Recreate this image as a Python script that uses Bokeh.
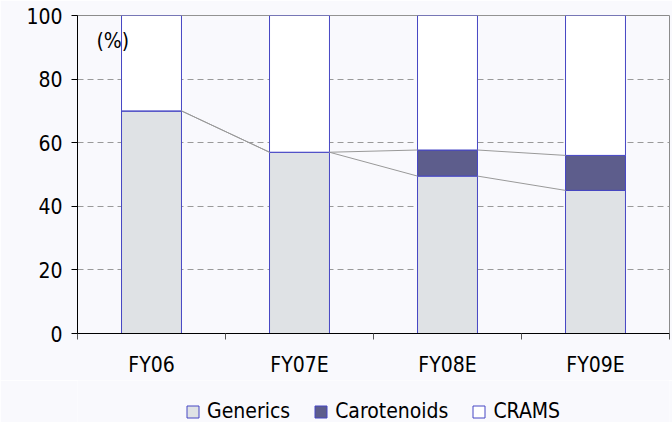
import numpy as np
from bokeh.plotting import figure
from bokeh.layouts import column
from bokeh.models import (ColumnDataSource, Range1d, FixedTicker, Legend,
                          LegendItem, Label)
from bokeh.embed import file_html
from bokeh.resources import INLINE

# Revenue mix by segment (% of total)
years = ["FY06", "FY07E", "FY08E", "FY09E"]
generics = [70, 57, 49.5, 45]
carotenoids = [0, 0, 8.2, 11]
crams = [round(100 - g - c, 1) for g, c in zip(generics, carotenoids)]
segments = ["Generics", "Carotenoids", "CRAMS"]
y_ticks = [0, 20, 40, 60, 80, 100]

FONT = "DejaVu Sans Condensed"
FS = "21px"
BAR_W = 0.405
EDGE = "#4646c4"
BG = "#f9f9fd"
FILLS = ["#dfe2e5", "#5d5d8c", "#ffffff"]

centers = [i + 0.5 for i in range(len(years))]
src = ColumnDataSource(dict(x=centers, Generics=generics,
                            Carotenoids=carotenoids, CRAMS=crams))

p = figure(width=672, height=380, output_backend="svg", toolbar_location=None,
           x_range=Range1d(0, len(years)), y_range=Range1d(0, 100),
           min_border_left=77, min_border_right=3, min_border_top=15,
           min_border_bottom=47)
p.background_fill_color = BG
p.border_fill_color = BG
p.outline_line_color = "#8c8c8c"

# stacked columns
p.vbar_stack(segments, x="x", width=BAR_W, source=src, fill_color=FILLS,
             line_color=EDGE, line_width=1)

# series lines joining the tops of each stacked segment
cum_g = np.array(generics, dtype=float)
cum_c = cum_g + np.array(carotenoids, dtype=float)
cum_r = cum_c + np.array(crams, dtype=float)
x0, x1, y0, y1 = [], [], [], []
for level in (cum_g, cum_c, cum_r):
    for i in range(len(years) - 1):
        x0.append(centers[i] + BAR_W / 2)
        x1.append(centers[i + 1] - BAR_W / 2)
        y0.append(level[i])
        y1.append(level[i + 1])
p.segment(x0=x0, y0=y0, x1=x1, y1=y1, line_color="#999999", line_width=1)

# x axis: labels at column centres, ticks at category boundaries
xa = p.xaxis[0]
xa.ticker = FixedTicker(ticks=centers,
                        minor_ticks=list(range(len(years) + 1)))
xa.major_label_overrides = {c: y for c, y in zip(centers, years)}
xa.major_tick_in = 0
xa.major_tick_out = 0
xa.minor_tick_in = 0
xa.minor_tick_out = 6
xa.minor_tick_line_color = "#555555"
xa.axis_line_color = "black"
xa.major_label_standoff = 13
xa.major_label_text_font = FONT
xa.major_label_text_font_size = FS
xa.major_label_text_color = "black"

ya = p.yaxis[0]
ya.ticker = FixedTicker(ticks=y_ticks)
ya.minor_tick_line_color = None
ya.major_tick_in = 0
ya.major_tick_out = 6
ya.major_tick_line_color = "black"
ya.axis_line_color = "black"
ya.major_label_standoff = 9
ya.major_label_text_font = FONT
ya.major_label_text_font_size = FS
ya.major_label_text_color = "black"

p.xgrid.grid_line_color = None
p.ygrid.grid_line_color = "#9a9a9a"
p.ygrid.grid_line_dash = "6 4"
p.ygrid.grid_line_width = 1

p.add_layout(Label(x=19, y=293, x_units="screen", y_units="screen",
                   text="(%)", text_font=FONT, text_font_size=FS,
                   text_baseline="middle", text_color="black"))

# legend strip under the chart; its swatch glyphs sit outside the visible range
lg = figure(width=672, height=42, output_backend="svg", toolbar_location=None,
            x_axis_type=None, y_axis_type=None,
            x_range=Range1d(0, 1), y_range=Range1d(0, 1),
            min_border=0, outline_line_color=None)
lg.background_fill_color = BG
lg.border_fill_color = BG
lg.xgrid.visible = False
lg.ygrid.visible = False
swatches = [lg.vbar(x=[-5], top=[-5], bottom=-6, width=0.1,
                    fill_color=f, line_color=EDGE)
            for f in FILLS]
legend = Legend(items=[LegendItem(label=n, renderers=[r])
                       for n, r in zip(segments, swatches)],
                orientation="horizontal", location=(108, -1),
                glyph_width=15, glyph_height=15, label_standoff=7,
                spacing=23, padding=0, margin=0,
                label_text_font=FONT, label_text_font_size=FS,
                label_text_color="black",
                border_line_color=None, background_fill_alpha=0)
lg.add_layout(legend, "center")

open("out.html", "w").write(file_html(column(p, lg, spacing=0), INLINE))
